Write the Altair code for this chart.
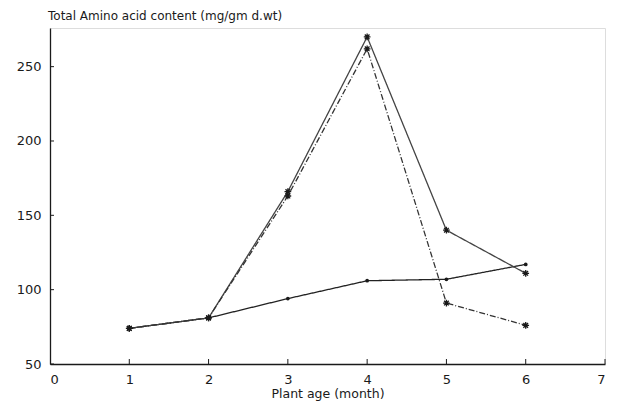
import altair as alt
import pandas as pd

months = [1, 2, 3, 4, 5, 6]
series_names = ["A", "B", "C"]
series_low = [74, 81, 94, 106, 107, 117]
series_high = [74, 81, 166, 270, 140, 111]
series_mid = [74, 81, 163, 262, 91, 76]

x_ticks = [0, 1, 2, 3, 4, 5, 6, 7]
y_ticks = [50, 100, 150, 200, 250]

rows = []
for name, vals in zip(series_names, [series_low, series_high, series_mid]):
    for m, v in zip(months, vals):
        rows.append({"month": m, "value": v, "series": name})
df = pd.DataFrame(rows)

FONT = "DejaVu Sans"
INK = "#1a1a1a"
H = 336

xs = alt.Scale(domain=[0, 7], nice=False, zero=False)
ys = alt.Scale(domain=[50, 276], nice=False, zero=False)

x_enc = alt.X("month:Q", scale=xs, axis=alt.Axis(
    values=x_ticks, format="d", ticks=False, grid=False, domainColor=INK, domainWidth=1.3,
    labelFont=FONT, labelFontSize=13, labelColor=INK, labelPadding=9,
    title="Plant age (month)", titleFont=FONT, titleFontSize=12.5, titleFontWeight="normal",
    titleColor=INK, titlePadding=1))
y_enc = alt.Y("value:Q", scale=ys, axis=alt.Axis(
    values=y_ticks, ticks=False, grid=False, domainColor=INK, domainWidth=1.3,
    labelFont=FONT, labelFontSize=13, labelColor=INK, labelPadding=9, title=None))

color_scale = alt.Scale(domain=series_names, range=["#222222", "#444444", "#333333"])
dash_scale = alt.Scale(domain=series_names, range=[[1, 0], [1, 0], [6, 2, 1, 2]])

lines = alt.Chart(df).mark_line(strokeWidth=1.3).encode(
    x=x_enc, y=y_enc,
    color=alt.Color("series:N", scale=color_scale, legend=None),
    strokeDash=alt.StrokeDash("series:N", scale=dash_scale, legend=None),
    detail="series:N",
)

star = "M-1,0L1,0M0,-1L0,1M-0.7,-0.7L0.7,0.7M-0.7,0.7L0.7,-0.7"
stars = alt.Chart(df).transform_filter(alt.datum.series != "A").mark_point(
    shape=star, filled=False, size=45, strokeWidth=1.3, color=INK, opacity=1
).encode(x=alt.X("month:Q", scale=xs), y=alt.Y("value:Q", scale=ys))

dots = alt.Chart(df).transform_filter(alt.datum.series == "A").mark_point(
    shape="circle", filled=True, size=14, color=INK, opacity=1
).encode(x=alt.X("month:Q", scale=xs), y=alt.Y("value:Q", scale=ys))

ytick_df = pd.DataFrame({"t": y_ticks})
xtick_df = pd.DataFrame({"t": x_ticks[1:]})
yticks = alt.Chart(ytick_df).mark_rule(color=INK, strokeWidth=1).encode(
    y=alt.Y("t:Q", scale=ys), x=alt.value(0), x2=alt.value(4))
xticks = alt.Chart(xtick_df).mark_rule(color=INK, strokeWidth=1).encode(
    x=alt.X("t:Q", scale=xs), y=alt.value(H), y2=alt.value(H - 5))

chart = alt.layer(lines, stars, dots, yticks, xticks).properties(
    width=555, height=H,
    autosize=alt.AutoSizeParams(type="none"),
    padding={"left": 42, "top": 20, "right": 4, "bottom": 40},
    title=alt.TitleParams(
        "Total Amino acid content (mg/gm d.wt)", anchor="start", frame="group",
        font=FONT, fontSize=12, fontWeight="normal", color=INK, offset=5, dx=-2),
).configure_view(stroke=None).configure(background="white")

chart.save("out.html", embed_options={"renderer": "svg", "actions": False})
